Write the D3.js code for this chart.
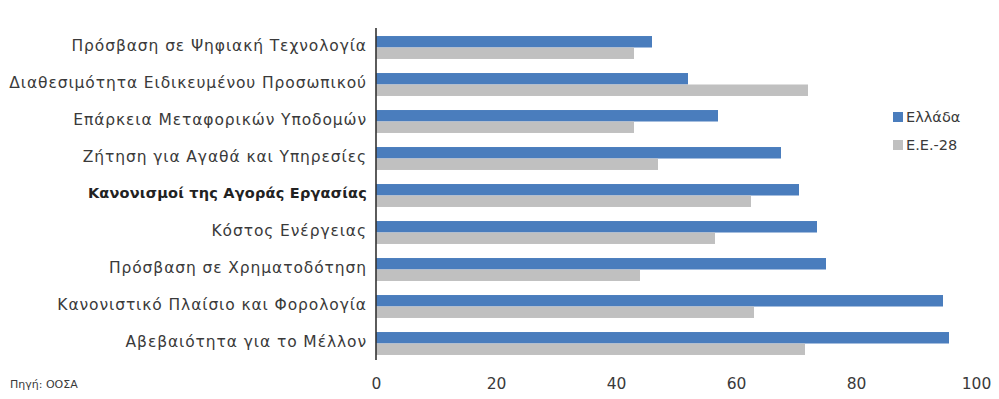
<!DOCTYPE html>
<html>
<head>
<meta charset="utf-8">
<script src="https://cdn.jsdelivr.net/npm/d3@7"></script>
<style>
  html, body { margin: 0; padding: 0; background: #fff; }
  svg { display: block; }
  text { font-family: "DejaVu Sans", Verdana, sans-serif; fill: #3a3a3a; }
</style>
</head>
<body>
<svg id="chart" width="999" height="399"></svg>
<script>
// Obstacles to business activity (% of firms), Greece vs EU-28
const categories = [
  "Πρόσβαση σε Ψηφιακή Τεχνολογία",
  "Διαθεσιμότητα Ειδικευμένου Προσωπικού",
  "Επάρκεια Μεταφορικών Υποδομών",
  "Ζήτηση για Αγαθά και Υπηρεσίες",
  "Κανονισμοί της Αγοράς Εργασίας",
  "Κόστος Ενέργειας",
  "Πρόσβαση σε Χρηματοδότηση",
  "Κανονιστικό Πλαίσιο και Φορολογία",
  "Αβεβαιότητα για το Μέλλον"
];
const seriesNames = ["Ελλάδα", "Ε.Ε.-28"];
const greeceValues = [46, 52, 57, 67.5, 70.5, 73.5, 75, 94.5, 95.5];
const eu28Values   = [43, 72, 43, 47, 62.5, 56.5, 44, 63, 71.5];
const xTicks = [0, 20, 40, 60, 80, 100];
const boldCategory = "Κανονισμοί της Αγοράς Εργασίας";
const sourceNote = "Πηγή: ΟΟΣΑ";

const colors = { "Ελλάδα": "#4a7dbd", "Ε.Ε.-28": "#c0c0c0" };

const svg = d3.select("#chart");
const plot = { left: 376, right: 976, top: 29, bottom: 362 };

const x = d3.scaleLinear().domain([0, 100]).range([plot.left, plot.right]);
const y = d3.scaleBand().domain(categories).range([plot.top, plot.bottom]).paddingInner(0.38).paddingOuter(0.19);
const ySeries = d3.scaleBand().domain(seriesNames).range([0, y.bandwidth()]).padding(0);

const rows = categories.map((c, i) => ({
  category: c,
  values: [
    { series: seriesNames[0], value: greeceValues[i] },
    { series: seriesNames[1], value: eu28Values[i] }
  ]
}));

// bars
const groups = svg.append("g").selectAll("g")
  .data(rows).join("g")
  .attr("transform", d => `translate(0,${y(d.category)})`);

groups.selectAll("rect")
  .data(d => d.values).join("rect")
  .attr("x", x(0))
  .attr("y", d => ySeries(d.series))
  .attr("width", d => x(d.value) - x(0))
  .attr("height", ySeries.bandwidth())
  .attr("fill", d => colors[d.series]);

// category axis
const yAxis = svg.append("g")
  .attr("transform", `translate(${x(0)},0)`)
  .call(d3.axisLeft(y).tickSize(0).tickPadding(9));
yAxis.select(".domain")
  .attr("d", `M0,${plot.top - 1}V${plot.bottom - 2}`)
  .attr("stroke", "#333").attr("stroke-width", 1.6);
yAxis.selectAll(".tick text")
  .attr("dy", "0.2em")
  .style("font-family", "'DejaVu Sans', Verdana, sans-serif")
  .style("font-size", d => d === boldCategory ? "14.5px" : "15.5px")
  .style("letter-spacing", d => d === boldCategory ? "0.2px" : "0.9px")
  .style("font-weight", d => d === boldCategory ? "bold" : "normal")
  .style("fill", d => d === boldCategory ? "#222" : "#3a3a3a");

// value axis (labels only)
const xAxis = svg.append("g")
  .attr("transform", `translate(0,${plot.bottom + 10})`)
  .call(d3.axisBottom(x).tickValues(xTicks).tickSize(0).tickPadding(6));
xAxis.select(".domain").remove();
xAxis.selectAll(".tick text")
  .style("font-family", "'DejaVu Sans', Verdana, sans-serif")
  .style("font-size", "15.5px")
  .style("fill", "#3a3a3a");

// legend
const legend = svg.append("g").attr("transform", "translate(893,112)");
const li = legend.selectAll("g").data(seriesNames).join("g")
  .attr("transform", (d, i) => `translate(0,${i * 28})`);
li.append("rect").attr("width", 10).attr("height", 10).attr("fill", d => colors[d]);
li.append("text").attr("x", 13).attr("y", 5).attr("dy", "0.36em")
  .style("font-size", "14.5px").text(d => d);

// source
svg.append("text").attr("x", 10).attr("y", 388)
  .style("font-size", "11px").text(sourceNote);
</script>
</body>
</html>
